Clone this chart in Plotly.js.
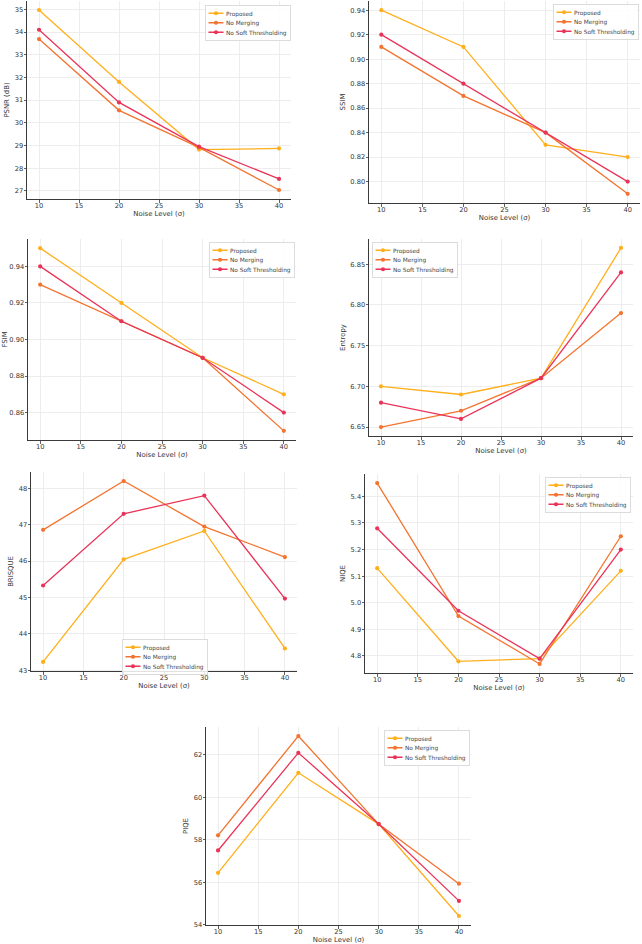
<!DOCTYPE html>
<html><head><meta charset="utf-8">
<script src="https://cdn.plot.ly/plotly-3.0.1.min.js"></script>
<style>
html,body{margin:0;padding:0;background:#fff;overflow:hidden;width:642px;height:944px}
#chart{width:1284px;height:1888px;transform:scale(0.5);transform-origin:0 0}
</style>
</head><body><div id="chart"></div>
<script>
// ---- data ----
const noiseLevels = [10, 20, 30, 40];
const seriesNames = ['Proposed', 'No Merging', 'No Soft Thresholding'];
const xTickVals = [10, 15, 20, 25, 30, 35, 40];

const psnrProposed = [34.97, 31.80, 28.82, 28.87];
const psnrNoMerging = [33.69, 30.55, 28.92, 27.04];
const psnrNoSoft = [34.10, 30.90, 28.95, 27.53];

const ssimProposed = [0.94, 0.91, 0.83, 0.82];
const ssimNoMerging = [0.91, 0.87, 0.84, 0.79];
const ssimNoSoft = [0.92, 0.88, 0.84, 0.80];

const fsimProposed = [0.95, 0.92, 0.89, 0.87];
const fsimNoMerging = [0.93, 0.91, 0.89, 0.85];
const fsimNoSoft = [0.94, 0.91, 0.89, 0.86];

const entropyProposed = [6.70, 6.69, 6.71, 6.87];
const entropyNoMerging = [6.65, 6.67, 6.71, 6.79];
const entropyNoSoft = [6.68, 6.66, 6.71, 6.84];

const brisqueProposed = [43.23, 46.05, 46.83, 43.60];
const brisqueNoMerging = [46.86, 48.20, 46.95, 46.11];
const brisqueNoSoft = [45.33, 47.30, 47.80, 44.97];

const niqeProposed = [5.13, 4.78, 4.79, 5.12];
const niqeNoMerging = [5.45, 4.95, 4.77, 5.25];
const niqeNoSoft = [5.28, 4.97, 4.79, 5.20];

const piqeProposed = [56.45, 61.15, 58.74, 54.42];
const piqeNoMerging = [58.21, 62.88, 58.74, 55.94];
const piqeNoSoft = [57.50, 62.09, 58.74, 55.13];

// ---- styling / layout config (drawn at 2x, then scaled by 0.5) ----
const colors = ['#FFAF1C', '#F3742E', '#EA3358'];
const S = 2;
const W = 642, H = 944;
const FONT = 'DejaVu Sans, Verdana, sans-serif';

const panels = [
  {title: 'PSNR (dB)', series: [psnrProposed, psnrNoMerging, psnrNoSoft], dtick: 1, fmt: '', box: [27, 1, 291, 199], leg: [205, 5]},
  {title: 'SSIM', series: [ssimProposed, ssimNoMerging, ssimNoSoft], dtick: 0.02, fmt: '.2f', box: [369, 1, 640, 203], leg: [553, 4]},
  {title: 'FSIM', series: [fsimProposed, fsimNoMerging, fsimNoSoft], dtick: 0.02, fmt: '.2f', box: [28, 239, 296, 440], leg: [209, 242]},
  {title: 'Entropy', series: [entropyProposed, entropyNoMerging, entropyNoSoft], dtick: 0.05, fmt: '.2f', box: [369, 239, 633, 436], leg: [372, 242]},
  {title: 'BRISQUE', series: [brisqueProposed, brisqueNoMerging, brisqueNoSoft], dtick: 1, fmt: '', box: [31, 472, 297, 671], leg: [122, 639]},
  {title: 'NIQE', series: [niqeProposed, niqeNoMerging, niqeNoSoft], dtick: 0.1, fmt: '.1f', box: [365, 474, 633, 673], leg: [545, 477]},
  {title: 'PIQE', series: [piqeProposed, piqeNoMerging, piqeNoSoft], dtick: 2, fmt: '', box: [206, 727, 471, 925], leg: [384, 730]}
];

const traces = [];
const layout = {
  width: W * S, height: H * S,
  margin: {l: 0, r: 0, t: 0, b: 0},
  paper_bgcolor: '#fff', plot_bgcolor: '#fff',
  font: {family: FONT, size: 6.7 * S, color: '#444'},
  showlegend: true
};

panels.forEach((p, i) => {
  const n = i + 1;
  const xa = n === 1 ? 'xaxis' : 'xaxis' + n;
  const ya = n === 1 ? 'yaxis' : 'yaxis' + n;
  const xr = n === 1 ? 'x' : 'x' + n;
  const yr = n === 1 ? 'y' : 'y' + n;
  const lg = n === 1 ? 'legend' : 'legend' + n;
  const all = [].concat(...p.series);
  const mn = Math.min(...all), mx = Math.max(...all), pad = (mx - mn) * 0.05;
  p.series.forEach((vals, k) => {
    traces.push({
      type: 'scatter', mode: 'lines+markers',
      x: noiseLevels, y: vals, name: seriesNames[k],
      xaxis: xr, yaxis: yr, legend: lg,
      line: {color: colors[k], width: 1.3 * S},
      marker: {color: colors[k], size: 4.2 * S},
      hoverinfo: 'skip'
    });
  });
  const [x0, y0, x1, y1] = p.box;
  const common = {
    showline: true, linecolor: '#3a3a3a', linewidth: 1 * S, mirror: false,
    ticks: 'outside', ticklen: 2.5 * S, tickwidth: 0.8 * S, tickcolor: '#3a3a3a',
    showgrid: true, gridcolor: '#e9e9e9', gridwidth: 0.8 * S,
    zeroline: false, tickfont: {family: FONT, size: 6.7 * S, color: '#333'},
    automargin: false, fixedrange: true
  };
  layout[xa] = Object.assign({}, common, {
    domain: [x0 / W, x1 / W], anchor: yr,
    range: [8.5, 41.5], tickvals: xTickVals, ticklabelstandoff: -3 * S,
    title: {text: 'Noise Level (σ)', font: {family: FONT, size: 6.9 * S, color: '#333'}, standoff: 3 * S}
  });
  layout[ya] = Object.assign({}, common, {
    domain: [1 - y1 / H, 1 - y0 / H], anchor: xr,
    range: [mn - pad, mx + pad], dtick: p.dtick, tickformat: p.fmt, ticklabelstandoff: -1 * S,
    title: {text: p.title, font: {family: FONT, size: 6.9 * S, color: '#333'}, standoff: 3.5 * S}
  });
  layout[lg] = {
    x: p.leg[0] / W, y: 1 - p.leg[1] / H, xanchor: 'left', yanchor: 'top',
    bgcolor: 'rgba(255,255,255,0.85)', bordercolor: '#dcdcdc', borderwidth: 1 * S,
    font: {family: FONT, size: 5.8 * S, color: '#444'}, tracegroupgap: 0, itemwidth: 30
  };
});

Plotly.newPlot('chart', traces, layout, {staticPlot: true, displayModeBar: false});
</script></body></html>
